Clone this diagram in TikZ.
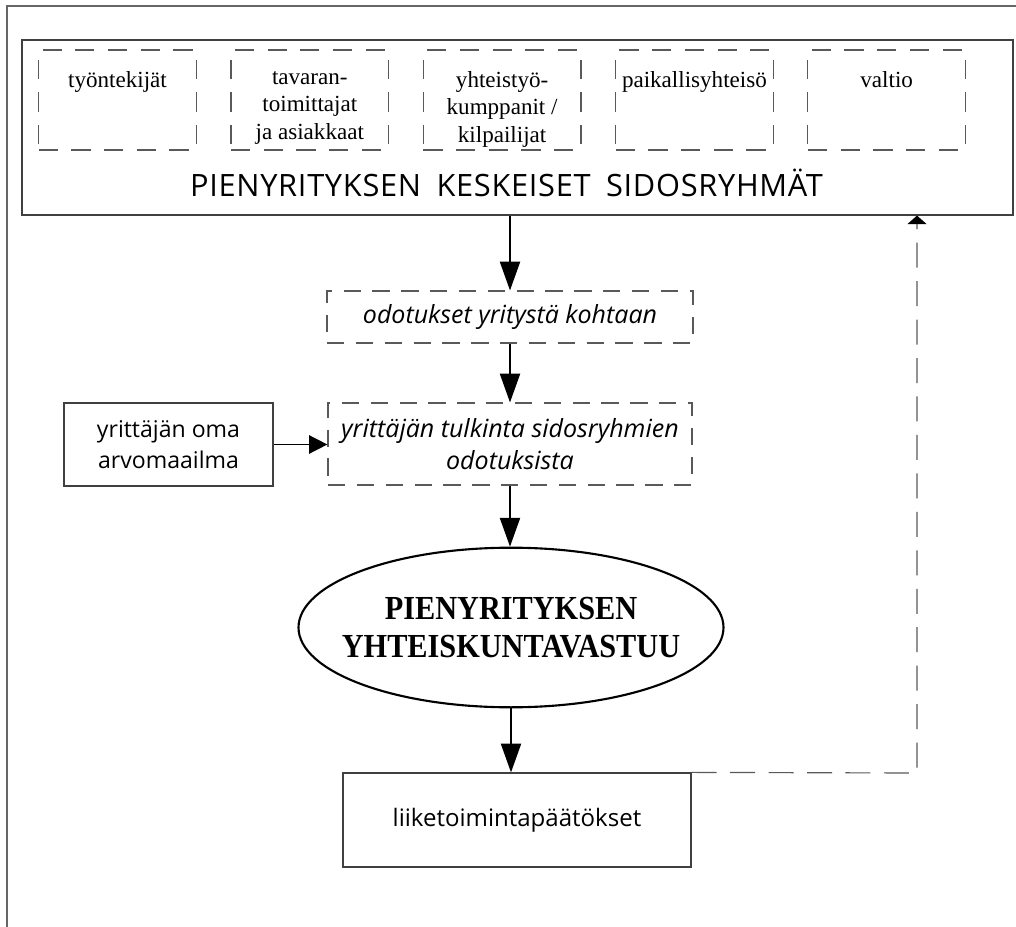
\documentclass[tikz,border=0pt]{standalone}
\usepackage{fontspec}
\setmainfont{Liberation Serif}
\setsansfont{Open Sans}
\newfontfamily\narrowserif[FakeStretch=0.9]{Liberation Serif}
\newfontfamily\titlefont[LetterSpace=2.3]{Open Sans}
\usetikzlibrary{fit,arrows.meta,shapes.geometric}

\begin{document}
\begin{tikzpicture}[x=0.52pt, y=-0.52pt, node distance={100pt}, line width=0.6pt,
	box/.style = {draw=black!75, inner sep=0pt},
	grp/.style = {draw=black!65, dash pattern=on 10pt off 7pt, minimum width=82pt, minimum height=52pt, inner sep=0pt},
	grplbl/.style = {anchor=north, inner sep=0pt, yshift=-11pt, align=center, font=\fontsize{12}{14.3}\selectfont},
	mid/.style = {draw=black!65, dash pattern=on 9pt off 6pt, inner sep=0pt, align=center, font=\sffamily\itshape\fontsize{13}{16.5}\selectfont},
	plain/.style = {box, align=center, font=\sffamily\fontsize{12}{16}\selectfont},
	ell/.style = {draw, ellipse, line width=1.1pt, minimum width=221pt, minimum height=83pt, inner xsep=-10.5pt, inner ysep=0pt, align=center, font=\narrowserif\bfseries\fontsize{17.5}{20}\selectfont},
	arr/.style = {-{Triangle[length=15pt,width=10.5pt]}, line width=0.8pt},
	arrs/.style = {-{Triangle[length=9.5pt,width=9.5pt]}, line width=0.8pt},
	fb/.style = {draw=black!65, dash pattern=on 13pt off 7pt, -{Triangle[length=4.5pt,width=10pt,color=black]}}]
\useasboundingbox (0,0) rectangle (1016,927);
\draw[black!60] (7,927) -- (7,6) -- (1016,6);
% sidosryhmat
\node[box, fit={(22,40) (1013,215)}] (main) {};
\node[grp, label={[grplbl]north:työntekijät}] (1) at (117.5,100) {};
\node[grp, label={[grplbl]north:tavaran-\\toimittajat\\ja asiakkaat}] (2) [right of=1] {};
\node[grp, label={[grplbl]north:yhteistyö-\\kumppanit /\\kilpailijat}] (3) [right of=2] {};
\node[grp, label={[grplbl]north:paikallisyhteisö}] (4) [right of=3] {};
\node[grp, label={[grplbl]north:valtio}] (5) [right of=4] {};
\node[anchor=base, font=\titlefont\fontsize{16}{19}\selectfont] (title) at (506.5,197) {PIENYRITYKSEN\enspace KESKEISET\enspace SIDOSRYHMÄT};
% keskiosa
\node[mid, minimum width=190.3pt, minimum height=27pt] (exp) at (510,317) {odotukset yritystä kohtaan};
\node[mid, minimum width=189.3pt, minimum height=42.6pt] (interp) at (510,444) {yrittäjän tulkinta sidosryhmien\\odotuksista};
\node[plain, minimum width=108.7pt, minimum height=43.2pt] (own) at (168.5,444.5) {yrittäjän oma\\arvomaailma};
\node[ell] (resp) at (511,627.5) {PIENYRITYKSEN\\YHTEISKUNTAVASTUU};
\node[plain, minimum width=181pt, minimum height=48.9pt, font=\sffamily\fontsize{12.5}{16}\selectfont] (dec) at (517,820) {liiketoimintapäätökset};
\coordinate (turn) at (917,773);
\draw[arr] (exp.north |- main.south) -- (exp.north);
\draw[arr] (exp.south) -- (exp.south |- interp.north);
\draw[arrs] (own.east) -- (own.east -| interp.west);
\draw[arr] (interp.south) -- (interp.south |- resp.north);
\draw[arr] (resp.south) -- (resp.south |- dec.north);
\draw[fb] (dec.north east) -- (turn) -- (turn |- main.south);
\end{tikzpicture}
\end{document}
